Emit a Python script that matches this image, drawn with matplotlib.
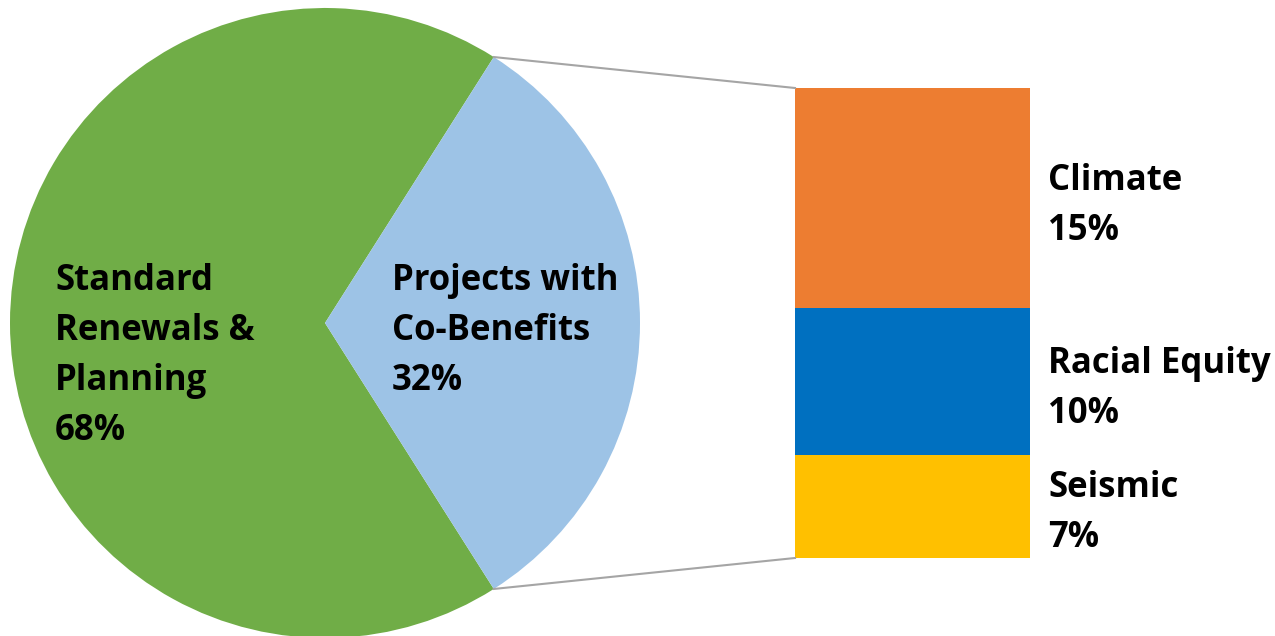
import numpy as np
import matplotlib
matplotlib.use('Agg')
from matplotlib import pyplot as plt

# pie data
pie_labels = ['Standard\nRenewals &\nPlanning\n68%', 'Projects with\nCo-Benefits\n32%']
pie_values = [68, 32]
pie_colors = ['#70AD47', '#9DC3E6']

# bar data (breakdown of the co-benefits slice, top to bottom)
bar_labels = ['Climate\n15%', 'Racial Equity\n10%', 'Seismic\n7%']
bar_values = [15, 10, 7]
bar_colors = ['#ED7D31', '#0070C0', '#FFC000']

plt.rcParams['font.family'] = ['Open Sans', 'DejaVu Sans']

fig = plt.figure(figsize=(12.75, 6.36), dpi=100)
ax = fig.add_axes([0, 0, 1, 1])

# pixel-like coordinates
cx, cy, r = 325, 323, 315
blue_ang = 360 * pie_values[1] / sum(pie_values)
start = blue_ang / 2

ax.pie(pie_values, colors=pie_colors, startangle=start, center=(cx, cy), radius=r,
       wedgeprops=dict(linewidth=0))

# bar
bx, bw, btop, bh = 795, 235, 88, 470
scale = bh / sum(bar_values)
bottoms = btop + np.concatenate([[0], np.cumsum(bar_values)[:-1]]) * scale
ax.bar([bx + bw / 2] * len(bar_values), np.array(bar_values) * scale, width=bw,
       bottom=bottoms, color=bar_colors, linewidth=0)

# connector lines
a = np.deg2rad(start)
p_top = (cx + r * np.cos(a), cy - r * np.sin(a))
p_bot = (cx + r * np.cos(a), cy + r * np.sin(a))
ax.plot([p_top[0], bx], [p_top[1], btop], color='#A5A5A5', lw=1.5)
ax.plot([p_bot[0], bx], [p_bot[1], btop + bh], color='#A5A5A5', lw=1.5)

def put(x, y0, text):
    # y0 = baseline of the first line, lines 50 px apart
    for i, line in enumerate(text.split('\n')):
        ax.text(x, y0 + 50 * i, line, fontsize=25, fontweight='bold',
                ha='left', va='baseline', color='black')

put(55, 290, pie_labels[0])
put(392, 290, pie_labels[1])
put(1048, 190, bar_labels[0])
put(1048, 373, bar_labels[1])
put(1048, 497, bar_labels[2])

ax.set_xlim(0, 1275)
ax.set_ylim(636, 0)
ax.set_aspect('equal')
ax.axis('off')

plt.savefig('out.png', dpi=100)
